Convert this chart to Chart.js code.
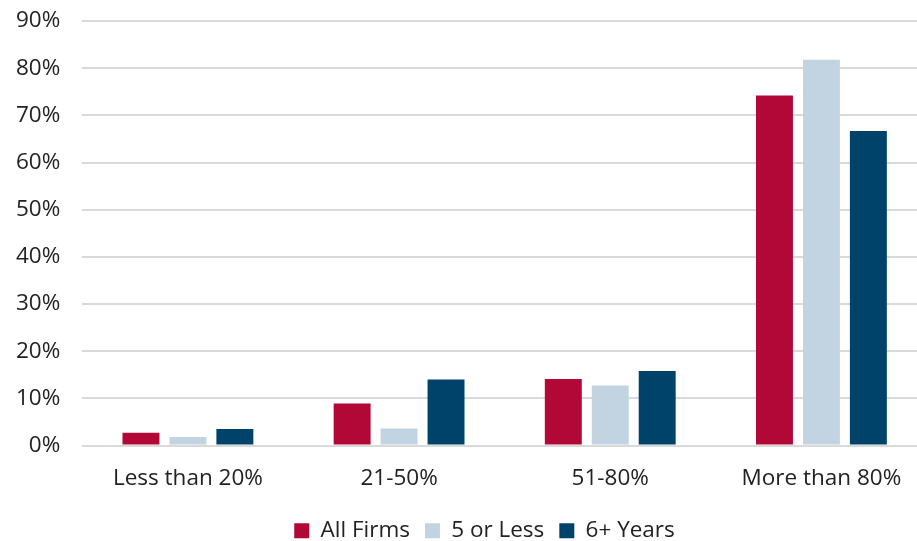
<!DOCTYPE html>
<html>
<head>
<meta charset="utf-8">
<script src="https://cdn.jsdelivr.net/npm/chart.js@4/dist/chart.umd.min.js"></script>
<style>
  html, body { margin: 0; padding: 0; background: #fff; }
  #wrap { width: 917px; height: 541px; position: relative; overflow: hidden; }
  #inner { width: 927px; height: 541px; position: absolute; left: 0; top: 0; }
</style>
</head>
<body>
<div id="wrap"><div id="inner"><canvas id="chart"></canvas></div></div>
<script>
const categories = ['Less than 20%', '21-50%', '51-80%', 'More than 80%'];
const allFirms = [2.7, 8.9, 14.1, 74.2];
const fiveOrLess = [1.8, 3.6, 12.7, 81.8];
const sixPlusYears = [3.5, 14.0, 15.8, 66.7];
const yTicks = [0, 10, 20, 30, 40, 50, 60, 70, 80, 90];

const FONT = '"Open Sans", Lato, sans-serif';
const FONT_SIZE = 22.5;

// nudges the legend row to the right of the canvas centre
const legendShift = {
  id: 'legendShift',
  afterLayout(chart) {
    const lg = chart.legend;
    if (lg) { lg.left += 14; lg.right += 14; }
  }
};

new Chart(document.getElementById('chart'), {
  type: 'bar',
  data: {
    labels: categories,
    datasets: [
      { label: 'All Firms', data: allFirms, backgroundColor: '#B20838' },
      { label: '5 or Less', data: fiveOrLess, backgroundColor: '#C2D4E2' },
      { label: '6+ Years', data: sixPlusYears, backgroundColor: '#00436A' }
    ]
  },
  plugins: [legendShift],
  options: {
    responsive: true,
    maintainAspectRatio: false,
    animation: false,
    datasets: { bar: { categoryPercentage: 0.667, barPercentage: 0.787 } },
    layout: { padding: { top: 21, right: 0, left: 14, bottom: -11 } },
    scales: {
      x: {
        grid: { display: false },
        border: { display: false },
        ticks: { color: '#222', font: { family: FONT, size: FONT_SIZE }, padding: 12 }
      },
      y: {
        min: 0,
        max: 90,
        afterBuildTicks: (axis) => { axis.ticks = yTicks.map(v => ({ value: v })); },
        grid: {
          color: '#d9d9d9',
          lineWidth: 2,
          drawTicks: true,
          tickLength: 20,
          tickColor: 'rgba(0,0,0,0)'
        },
        border: { display: false },
        ticks: {
          color: '#222',
          font: { family: FONT, size: FONT_SIZE },
          padding: 2,
          callback: (v) => v + '%'
        }
      }
    },
    plugins: {
      legend: {
        position: 'bottom',
        labels: {
          color: '#222',
          font: { family: FONT, size: FONT_SIZE },
          boxWidth: 15,
          boxHeight: 15,
          padding: 15
        }
      },
      tooltip: { enabled: false }
    }
  }
});
</script>
</body>
</html>
